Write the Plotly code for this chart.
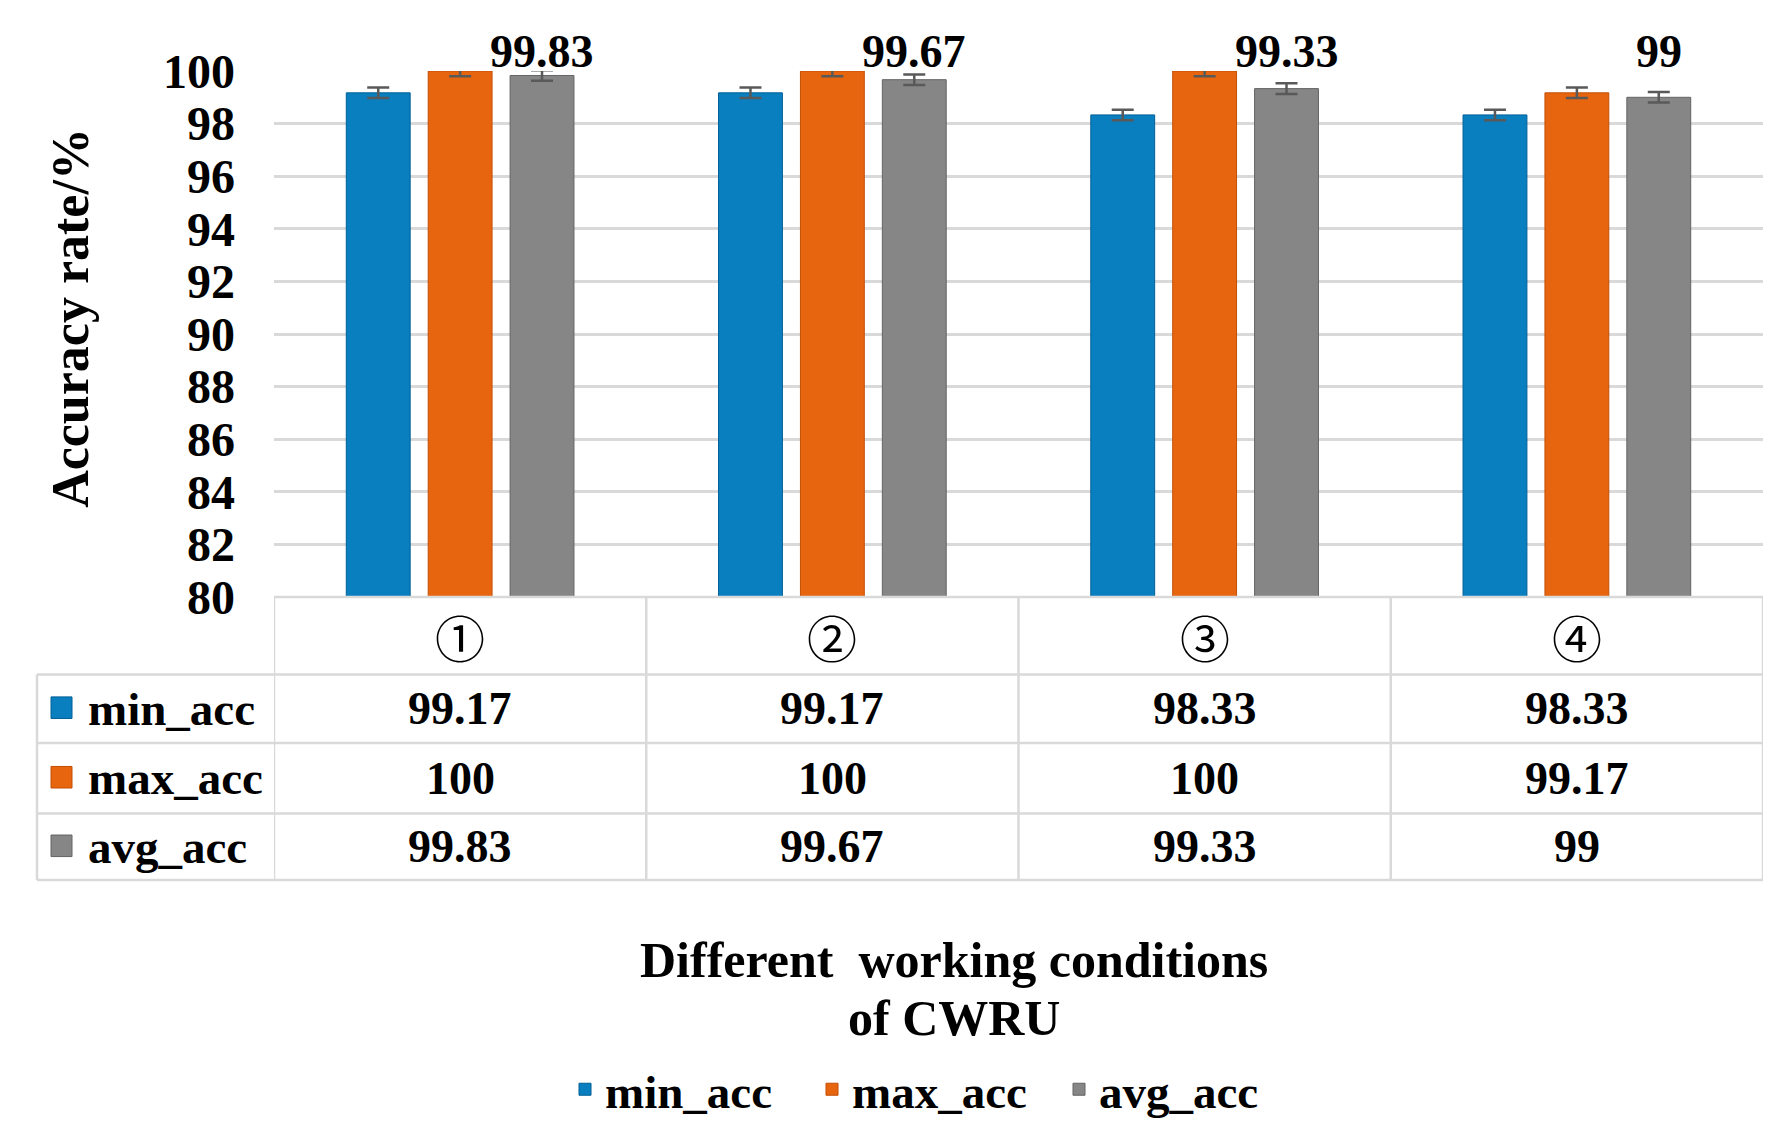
import plotly.graph_objects as go

# data
conditions = ["①", "②", "③", "④"]
series_names = ["min_acc", "max_acc", "avg_acc"]
min_acc = [99.17, 99.17, 98.33, 98.33]
max_acc = [100, 100, 100, 99.17]
avg_acc = [99.83, 99.67, 99.33, 99]
err_min = [0.2, 0.2, 0.2, 0.2]
err_max = [0.2, 0.2, 0.2, 0.2]
err_avg = [0.2, 0.2, 0.2, 0.2]
y_ticks = list(range(80, 101, 2))

colors = ["#0a7fc0", "#e8650f", "#868686"]
dark_colors = ["#005f96", "#c24f05", "#646464"]

# the page body has an 8px margin, so the figure is a bit smaller than the window
OFF = 8
W, H = 1783 - 2 * OFF, 1148 - 2 * OFF
PLOT_L, PLOT_R, PLOT_T, PLOT_B = 274, 1763, 71, 608  # screen px
ML, MT = PLOT_L - OFF, PLOT_T - OFF
MR = W - (PLOT_R - OFF)
MB = H - (PLOT_B - OFF)
PW = PLOT_R - PLOT_L
PH = PLOT_B - PLOT_T
BARGAP = 0.34
FONT = "Liberation Serif, Times New Roman, serif"


def py(y):
    # screen pixel row -> paper y
    return (PLOT_B - y) / PH


def px_(x):
    return (x - PLOT_L) / PW


def bold(size):
    return dict(family=FONT, size=size, color="black", weight="bold")


fig = go.Figure()
values = [min_acc, max_acc, avg_acc]
errs = [err_min, err_max, err_avg]
for name, vals, err, col, dcol in zip(series_names, values, errs, colors, dark_colors):
    fig.add_trace(go.Bar(
        name=name, x=conditions, y=vals,
        marker=dict(color=col, line=dict(color=dcol, width=1)),
        error_y=dict(type="data", array=err, visible=True,
                     color="#595959", thickness=2.5, width=11),
    ))

# labels above the avg bars, all sitting on the 100 line
slot = PW / len(conditions) * (1 - BARGAP) / 3
annotations = []
for c, v in zip(conditions, avg_acc):
    annotations.append(dict(
        x=c, y=100, xref="x", yref="y", yanchor="bottom", xshift=slot, yshift=-8,
        text=f"{v:g}", showarrow=False, font=bold(46),
    ))

# table under the chart
row_lines = [608, 687, 757, 829, 897]
row_centers = [(a + b) / 2 for a, b in zip(row_lines[:-1], row_lines[1:])]
for c in conditions:
    annotations.append(dict(
        x=c, y=py(row_centers[0]), xref="x", yref="paper", yanchor="middle",
        text=c, showarrow=False,
        font=dict(family="Noto Sans CJK JP", size=50, color="black"),
    ))
for r, (name, vals) in enumerate(zip(series_names, values)):
    yc = py(row_centers[r + 1])
    annotations.append(dict(
        x=px_(86), y=yc, xref="paper", yref="paper", xanchor="left", yanchor="middle",
        text=name, showarrow=False, font=bold(47),
    ))
    for c, v in zip(conditions, vals):
        annotations.append(dict(
            x=c, y=yc, xref="x", yref="paper", yanchor="middle",
            text=f"{v:g}", showarrow=False, font=bold(46),
        ))

annotations.append(dict(
    x=px_(71), y=py(323), xref="paper", yref="paper", xanchor="center", yanchor="middle",
    textangle=-90, text="Accuracy rate/%", showarrow=False, font=bold(52),
))
for line, yy in zip(["Different  working conditions", "of CWRU"], [979, 1038]):
    annotations.append(dict(
        x=px_(954), y=py(yy), xref="paper", yref="paper", xanchor="center", yanchor="middle",
        text=line, showarrow=False, font=bold(50),
    ))

grid = "#d9d9d9"
shapes = []
for i, yy in enumerate(row_lines):
    x0 = PLOT_L if i == 0 else 37
    shapes.append(dict(type="line", xref="paper", yref="paper",
                       x0=px_(x0), x1=1, y0=py(yy), y1=py(yy),
                       line=dict(color=grid, width=2.5)))
shapes.append(dict(type="line", xref="paper", yref="paper", x0=px_(37), x1=px_(37),
                   y0=py(row_lines[1]), y1=py(row_lines[-1]), line=dict(color=grid, width=2.5)))
for k in range(len(conditions) + 1):
    shapes.append(dict(type="line", xref="x", yref="paper", x0=k - 0.5, x1=k - 0.5,
                       y0=py(row_lines[0]), y1=py(row_lines[-1]),
                       line=dict(color=grid, width=2.5)))
for r in range(3):
    shapes.append(dict(type="rect", xref="paper", yref="paper",
                       x0=px_(51), x1=px_(72),
                       y0=py(row_centers[r + 1] - 12), y1=py(row_centers[r + 1] + 10),
                       fillcolor=colors[r], line=dict(color=dark_colors[r], width=1)))

fig.update_layout(
    width=W, height=H,
    margin=dict(l=ML, r=MR, t=MT, b=MB, pad=0),
    paper_bgcolor="white", plot_bgcolor="white",
    barmode="group", bargap=BARGAP, bargroupgap=0.22,
    xaxis=dict(showticklabels=False, showgrid=False, zeroline=False,
               range=[-0.5, len(conditions) - 0.5]),
    yaxis=dict(range=[80, 100], tickvals=y_ticks, showgrid=True, gridcolor=grid,
               gridwidth=2.5, zeroline=False, ticks="", ticklabelstandoff=38,
               tickfont=bold(48)),
    legend=dict(orientation="h", x=px_(565), xanchor="left", y=py(1111), yanchor="middle",
                entrywidth=202, entrywidthmode="pixels", font=bold(47)),
    annotations=annotations,
    shapes=shapes,
)

fig.write_html("out.html")
